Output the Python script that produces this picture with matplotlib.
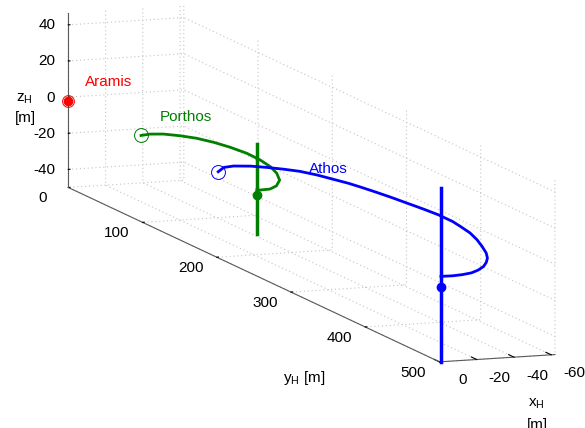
import matplotlib
matplotlib.use('Agg')
import matplotlib.pyplot as plt
from mpl_toolkits.mplot3d import proj3d
import numpy as np

plt.rcParams['font.family'] = ['Liberation Sans', 'DejaVu Sans']
plt.rcParams['mathtext.fontset'] = 'custom'
plt.rcParams['mathtext.rm'] = 'Liberation Sans'
plt.rcParams['mathtext.it'] = 'Liberation Sans:italic'
plt.rcParams['axes.unicode_minus'] = False

W, H = 585, 428

names = ['Aramis', 'Porthos', 'Athos']
colors = ['#ff0000', '#007f00', '#0000ff']

# horizontal tracks (x_H, y_H in m)
porthos_x = [0, -5.6, -12, -18.2, -23.5, -27.5, -30.3, -32.1, -31.7, -29.7,
             -26.2, -20.6, -13.3, -7.1, -1.4, 0]
porthos_y = [98, 96, 98, 105, 114, 127, 142, 160, 179, 198,
             215, 233, 247, 254, 255, 254]
athos_x = [0, -7, -13, -21, -27.5, -33.5, -39, -43.5, -47, -50, -52, -54,
           -56, -57.8, -59.5, -60.8, -60.8, -59.5, -57.5, -54, -49.6, -45,
           -40.5, -35.5, -30, -24, -18, -12, -6, 0]
athos_y = [202, 192, 190, 193, 199, 206, 214, 226, 240, 252, 264, 278,
           294, 312, 329, 346, 365, 379, 397, 415, 433, 450,
           463, 474, 484, 492, 498, 501, 502.5, 502]
track_z = -2.3

start_x = [0, 0, 0]
start_y = [0, 98, 202]
start_ms = [8.5, 10, 10]
end_x = [0, 0, 0]
end_y = [0, 254, 502]
end_z = [-2.1, -5.3, -8.2]          # filled dots
post_bottom = [-2.1, -26.5, -49.8]  # vertical bars
post_top = [-2.1, 23.3, 46.5]

label_x = [-9, -9, -27]
label_y = [0, 100, 256]
label_z = [7.7, 7.7, 7.7]

xlim = (-62, 0)
ylim = (0, 500)
zlim = (-50, 46.5)
xticks = [0, -20, -40, -60]
yticks = [0, 100, 200, 300, 400, 500]
zticks = [-40, -20, 0, 20, 40]

fig = plt.figure(figsize=(W / 100, H / 100), dpi=100)
ax = fig.add_axes([0, 0, 1, 1], projection='3d', proj_type='ortho')
ax.view_init(elev=9.9, azim=69.9)
ax.set_box_aspect((123, 1080, 177))

tracks = [(None, None), (porthos_x, porthos_y), (athos_x, athos_y)]
for i in range(3):
    c = colors[i]
    tx, ty = tracks[i]
    if tx is not None:
        ax.plot(tx, ty, [track_z] * len(tx), color=c, lw=2,
                solid_joinstyle='round')
        ax.plot([end_x[i], end_x[i]], [end_y[i], end_y[i]],
                [post_bottom[i], post_top[i]], color=c, lw=2.5)
    ax.plot([start_x[i]], [start_y[i]], [track_z], 'o', ms=start_ms[i],
            mfc='none', mec=c, mew=0.7)
    ax.plot([end_x[i]], [end_y[i]], [end_z[i]], 'o', ms=6, color=c)
    ax.text(label_x[i], label_y[i], label_z[i], names[i], color=c,
            fontsize=11, ha='left', va='center')

ax.set_xlim(*xlim)
ax.set_ylim(*ylim)
ax.set_zlim(*zlim)
ax.set_xticks(xticks)
ax.set_yticks(yticks)
ax.set_zticks(zticks)

for axis in (ax.xaxis, ax.yaxis, ax.zaxis):
    axis.set_pane_color((1, 1, 1, 0))
    axis.pane.set_edgecolor((1, 1, 1, 0))
    axis.line.set_color('0.35')
    axis.line.set_linewidth(0.8)
    axis._axinfo['grid'].update(color='#c4c4c4', linestyle=(0, (1, 2.5)),
                                linewidth=0.8)
    axis._axinfo['tick'].update(inward_factor=0.0, outward_factor=0.18)
    axis._axinfo['tick']['color'] = '0.35'
    # own tick labels are drawn below
    for tk in axis.get_major_ticks():
        tk.label1.set_visible(False)
        tk.label2.set_visible(False)
    axis.label.set_visible(False)
    axis.offsetText.set_visible(False)

# tick labels placed MATLAB-style, next to each tick
for t in xticks:
    ax.text(t, 531, -54.3, str(t), fontsize=11, ha='center', va='center')
for t in yticks:
    ax.text(14, t, -55, str(t), fontsize=11, ha='center', va='center')
for t in zticks:
    ax.text(7, 0, t + 0.2, str(t), fontsize=11, ha='right', va='center')

fig.text(24 / W, 1 - 102 / H, 'z$_\\mathrm{H}$', fontsize=11,
         ha='center', va='baseline')
fig.text(25 / W, 1 - 122 / H, '[m]', fontsize=11, ha='center', va='baseline')
fig.text(304 / W, 1 - 378 / H, 'y$_\\mathrm{H}$ [m]', fontsize=11,
         ha='center', va='center')
fig.text(528 / W, 1 - 407 / H, 'x$_\\mathrm{H}$', fontsize=11,
         ha='left', va='baseline')
fig.text(527 / W, 1 - 429 / H, '[m]', fontsize=11, ha='left', va='baseline')

# fit the projected box onto the reference corners
fig.canvas.draw()
ref3d = np.array([[0, 0, -50], [0, 500, -50], [-62, 500, -50], [0, 0, 46.5]])
ref2d = np.array([[68, 187], [440, 362], [555, 354], [68, 14]], dtype=float)
ref2d[:, 1] = H - ref2d[:, 1]
M = ax.get_proj()
px, py, _ = proj3d.proj_transform(ref3d[:, 0], ref3d[:, 1], ref3d[:, 2], M)
disp = ax.transData.transform(np.column_stack([px, py]))
bb = ax.get_position()
org = np.array([bb.x0 * W, bb.y0 * H])
side = bb.width * W
u = (disp - org) / side
um, tm = u.mean(0), ref2d.mean(0)
s_new = ((u - um) * (ref2d - tm)).sum() / ((u - um) ** 2).sum()
o_new = tm - s_new * um
ax.set_position([o_new[0] / W, o_new[1] / H, s_new / W, s_new / H])

fig.savefig('out.png', dpi=100)
